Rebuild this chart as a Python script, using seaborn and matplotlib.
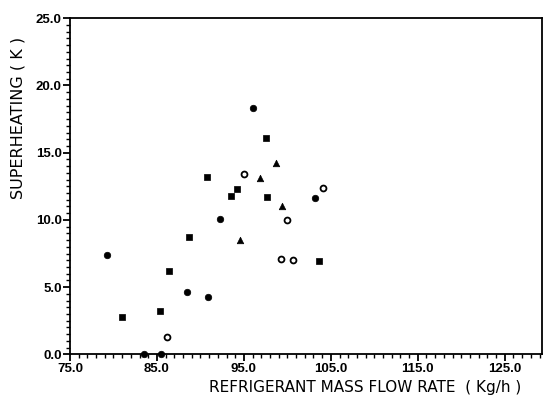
import matplotlib
matplotlib.use("Agg")
import matplotlib.pyplot as plt
from matplotlib.ticker import MultipleLocator, FormatStrFormatter
import seaborn as sns
import pandas as pd

# Filled squares
sq_x = [97.5, 90.8, 94.2, 93.5, 97.7, 88.7, 103.6, 86.4, 81.0, 85.4]
sq_y = [16.1, 13.2, 12.3, 11.8, 11.7, 8.7, 6.95, 6.2, 2.8, 3.2]
# Filled circles
ci_x = [96.1, 92.2, 79.3, 88.5, 90.9, 103.2, 83.5, 85.5]
ci_y = [18.3, 10.1, 7.4, 4.65, 4.25, 11.6, 0.0, 0.0]
# Filled triangles
tr_x = [98.7, 96.9, 99.4, 94.6]
tr_y = [14.2, 13.1, 11.0, 8.5]
# Open markers
op_x = [95.0, 104.1, 99.9, 99.3, 100.6, 86.2]
op_y = [13.4, 12.35, 10.0, 7.1, 7.0, 1.3]

x_ticks = [75, 85, 95, 105, 115, 125]
y_ticks = [0, 5, 10, 15, 20, 25]

sns.set_style("ticks")
plt.rcParams['font.family'] = ['Liberation Sans', 'DejaVu Sans']
plt.rcParams['text.color'] = 'black'
plt.rcParams['xtick.color'] = 'black'
plt.rcParams['ytick.color'] = 'black'

fig = plt.figure(figsize=(5.49, 4.05), dpi=100)
ax = fig.add_axes([0.1275, 0.125, 0.860, 0.830])

df_sq = pd.DataFrame({"x": sq_x, "y": sq_y})
df_ci = pd.DataFrame({"x": ci_x, "y": ci_y})
df_tr = pd.DataFrame({"x": tr_x, "y": tr_y})
df_op = pd.DataFrame({"x": op_x, "y": op_y})

sns.scatterplot(data=df_sq, x="x", y="y", ax=ax, marker="s", s=20, color="black",
                edgecolor="black", linewidth=0.5, clip_on=False)
sns.scatterplot(data=df_ci, x="x", y="y", ax=ax, marker="o", s=22, color="black",
                edgecolor="black", linewidth=0.5, clip_on=False)
sns.scatterplot(data=df_tr, x="x", y="y", ax=ax, marker="^", s=22, color="black",
                edgecolor="black", linewidth=0.5, clip_on=False)
sns.scatterplot(data=df_op, x="x", y="y", ax=ax, marker="o", s=18, color="white",
                edgecolor="black", linewidth=1.3, clip_on=False)

ax.set_xlim(75, 129.3)
ax.set_ylim(0, 25)
ax.set_xticks(x_ticks)
ax.set_yticks(y_ticks)
ax.xaxis.set_minor_locator(MultipleLocator(1))
ax.yaxis.set_minor_locator(MultipleLocator(0.5))
ax.xaxis.set_major_formatter(FormatStrFormatter("%.1f"))
ax.yaxis.set_major_formatter(FormatStrFormatter("%.1f"))
ax.tick_params(axis="both", which="major", direction="out", length=5, width=1.3,
               labelsize=9.5, pad=1, colors="black")
ax.tick_params(axis="both", which="minor", direction="out", length=3, width=1.0,
               colors="black")
for lab in ax.get_xticklabels() + ax.get_yticklabels():
    lab.set_fontweight("bold")
for sp in ax.spines.values():
    sp.set_linewidth(1.3)
    sp.set_color("black")

ax.set_xlabel("")
ax.set_ylabel("")
fig.text(0.033, 0.71, "SUPERHEATING ( K )", fontsize=11.5, rotation=90,
         ha="center", va="center", family=["DejaVu Sans"], color="black")
fig.text(0.665, 0.042, "REFRIGERANT MASS FLOW RATE  ( Kg/h )", fontsize=11,
         ha="center", va="center", family=["DejaVu Sans"], color="black")

fig.savefig("out.png", dpi=100)
